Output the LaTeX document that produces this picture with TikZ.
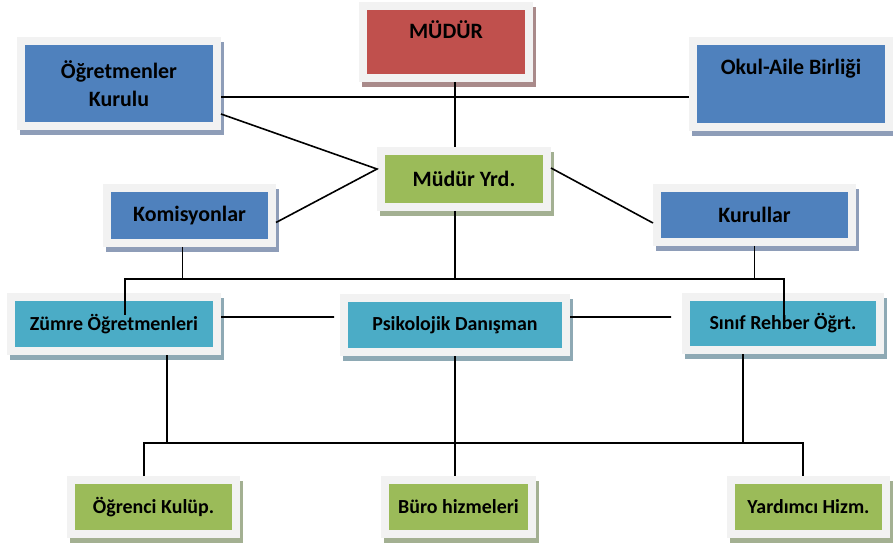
\documentclass[tikz,border=0pt]{standalone}
\usepackage{fontspec}
\setmainfont{Carlito}
\usetikzlibrary{shadows}
\definecolor{kirmizi}{HTML}{C0504D}
\definecolor{mavi}{HTML}{4F81BD}
\definecolor{yesil}{HTML}{9BBB59}
\definecolor{turkuaz}{HTML}{4BACC6}
\definecolor{kirmizigolge}{HTML}{A98A8A}
\definecolor{maviglg}{HTML}{8E9DB8}
\definecolor{yesilglg}{HTML}{A3B092}
\definecolor{turkuazglg}{HTML}{8EA9B4}
\definecolor{cerceve}{HTML}{F2F2F2}
\tikzset{
  kutu/.style 2 args={draw=cerceve, fill=#1, line width=8bp, inner sep=0pt, align=center,
    general shadow={draw=#2, fill=#2, line width=8bp, shadow xshift=3bp, shadow yshift=-5bp},
    font=\bfseries\fontsize{22}{28}\selectfont},
  altkutu/.style 2 args={kutu={#1}{#2}, font=\bfseries\fontsize{20}{24}\selectfont},
  cizgi/.style={line width=1.6bp, black},
}
\begin{document}
\begin{tikzpicture}[x=1bp, y=-1bp]
  \useasboundingbox (0,0) rectangle (893,549);
  \node[kutu={kirmizi}{kirmizigolge}, minimum width=166bp, minimum height=72bp, text depth=24bp] (mudur) at (446,42) {MÜDÜR};
  \node[kutu={mavi}{maviglg}, minimum width=196bp, minimum height=85bp] (ogrkurul) at (119,84) {Öğretmenler\\Kurulu};
  \node[kutu={mavi}{maviglg}, minimum width=196bp, minimum height=86bp, text depth=34bp] (okulaile) at (791,84) {Okul-Aile Birliği};
  \node[kutu={yesil}{yesilglg}, minimum width=166bp, minimum height=56bp] (mudyrd) at (464,179) {Müdür Yrd.};
  \node[kutu={mavi}{maviglg}, minimum width=165bp, minimum height=55bp] (komis) at (189.5,215.5) {Komisyonlar};
  \node[kutu={mavi}{maviglg}, minimum width=195bp, minimum height=54bp] (kurul) at (754.5,215) {Kurullar};
  \node[altkutu={turkuaz}{turkuazglg}, minimum width=206bp, minimum height=54bp] (zumre) at (114,324) {Zümre Öğretmenleri};
  \node[altkutu={turkuaz}{turkuazglg}, minimum width=222bp, minimum height=54bp] (psiko) at (455,325) {Psikolojik Danışman};
  \node[altkutu={turkuaz}{turkuazglg}, minimum width=194bp, minimum height=53bp] (sinif) at (783,323.5) {Sınıf Rehber Öğrt.};
  \node[altkutu={yesil}{yesilglg}, minimum width=165bp, minimum height=54bp] (ogrkulup) at (153.5,507) {Öğrenci Kulüp.};
  \node[altkutu={yesil}{yesilglg}, minimum width=147bp, minimum height=54bp] (buro) at (458.5,507) {Büro hizmeleri};
  \node[altkutu={yesil}{yesilglg}, minimum width=155bp, minimum height=54bp] (yardimci) at (808.5,507) {Yardımcı Hizm.};

  \coordinate (k1) at (455,97);
  \coordinate (k2) at (455,279);
  \coordinate (k2l) at (125,279);
  \coordinate (k2r) at (784,279);
  \coordinate (z1) at (125,315);
  \coordinate (s1) at (784,323);
  \coordinate (k3l) at (144,443);
  \coordinate (k3r) at (803,443);

  \draw[cizgi] (ogrkurul.east |- k1) -- (okulaile.west |- k1);
  \draw[cizgi] (mudur.south -| k1) -- (mudyrd.north -| k1);
  \draw[cizgi] ([yshift=-30bp]ogrkurul.east) -- ([yshift=10bp]mudyrd.west) -- ([yshift=-7bp]komis.east);
  \draw[cizgi] ([yshift=11bp]mudyrd.east) -- ([yshift=-8bp]kurul.west);
  \draw[cizgi] (mudyrd.south -| k2) -- (k2);
  \draw[cizgi] (z1) |- (k2r) -- (s1);
  \draw[cizgi] ([xshift=-7bp]komis.south) -- ([xshift=-7bp]komis.south |- k2);
  \draw[cizgi] (kurul.south) -- (kurul.south |- k2);
  \draw[cizgi] ([yshift=7bp]zumre.east) -- ([xshift=-6bp,yshift=8bp]psiko.west);
  \draw[cizgi] ([yshift=8bp]psiko.east) -- ([xshift=-11bp,yshift=6.5bp]sinif.west);
  \draw[cizgi] ([xshift=53bp]zumre.south) -- ([xshift=53bp]zumre.south |- k3l);
  \draw[cizgi] ([xshift=-40bp]sinif.south) -- ([xshift=-40bp]sinif.south |- k3l);
  \draw[cizgi] (ogrkulup.north -| k3l) |- (k3r) -- (yardimci.north -| k3r);
  \draw[cizgi] (psiko.south) -- (psiko.south |- buro.north);
\end{tikzpicture}
\end{document}
